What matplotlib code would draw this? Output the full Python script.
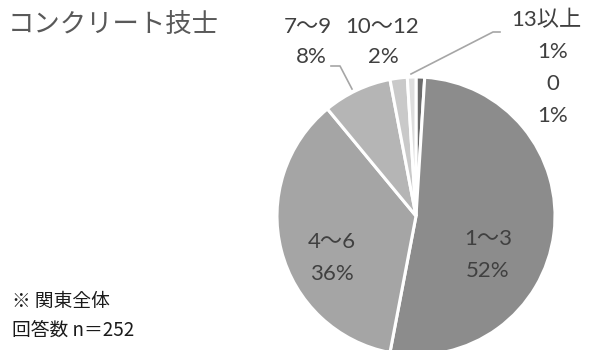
import matplotlib
matplotlib.use("Agg")
import matplotlib.pyplot as plt

plt.rcParams['font.family'] = ['Noto Sans CJK JP', 'DejaVu Sans']

# Share of respondents per category (percent of 252 respondents)
categories = ["0", "1〜3", "4〜6", "7〜9", "10〜12", "13以上"]
shares = [1, 52, 36, 8, 2, 1]
colors = ["#6b6b6b", "#8c8c8c", "#a5a5a5", "#b5b5b5", "#c9c9c9", "#dedede"]
explode = [0.0, 0.02, 0.0, 0.0, 0.0, 0.0]

W, H = 594, 350
fig = plt.figure(figsize=(W / 100, H / 100), dpi=100)
ax = fig.add_axes([0, 0, 1, 1])

cx, cy, r = 416, H - 216, 139
ax.pie(shares, colors=colors, startangle=90, counterclock=False,
       center=(cx, cy), radius=r, explode=explode,
       wedgeprops=dict(edgecolor='white', linewidth=2.2), frame=True)
ax.set_xlim(0, W)
ax.set_ylim(0, H)
ax.set_aspect('equal')
ax.axis('off')

lab_col = "#404040"
fs = 16
lab_family = ['Lato', 'Noto Sans CJK JP', 'DejaVu Sans']


def label(x, y, text, **kw):
    ax.text(x, H - y, text, ha='center', va='center', fontsize=fs,
            color=lab_col, family=lab_family, **kw)


# Inside labels
label(488, 239, f"{categories[1]}")
label(488, 271, f"{shares[1]}%")
label(332, 242, f"{categories[2]}")
label(332, 274, f"{shares[2]}%")

# Outside labels
label(308, 27, f"{categories[3]}")
label(311, 57, f"{shares[3]}%")
label(382, 27, f"{categories[4]}")
label(383, 57, f"{shares[4]}%")
label(546, 20, f"{categories[5]}")
label(553, 52, f"{shares[5]}%")
label(553, 84, f"{categories[0]}")
label(553, 116, f"{shares[0]}%")

# Leader lines
line_col = "#a6a6a6"
ax.plot([331, 340, 352], [H - 66, H - 66, H - 89], color=line_col, lw=1.2)
ax.plot([500, 493, 411], [H - 32, H - 32, H - 74], color=line_col, lw=1.2)

# Title and notes
ax.text(8, H - 25, "コンクリート技士", ha='left', va='center', fontsize=19,
        color="#595959")
ax.text(12, H - 301, "※ 関東全体", ha='left', va='center', fontsize=13.5,
        color="#1a1a1a")
ax.text(12, H - 330, "回答数 n＝252", ha='left', va='center', fontsize=13.5,
        color="#1a1a1a")

fig.savefig("out.png", dpi=100, facecolor='white')
